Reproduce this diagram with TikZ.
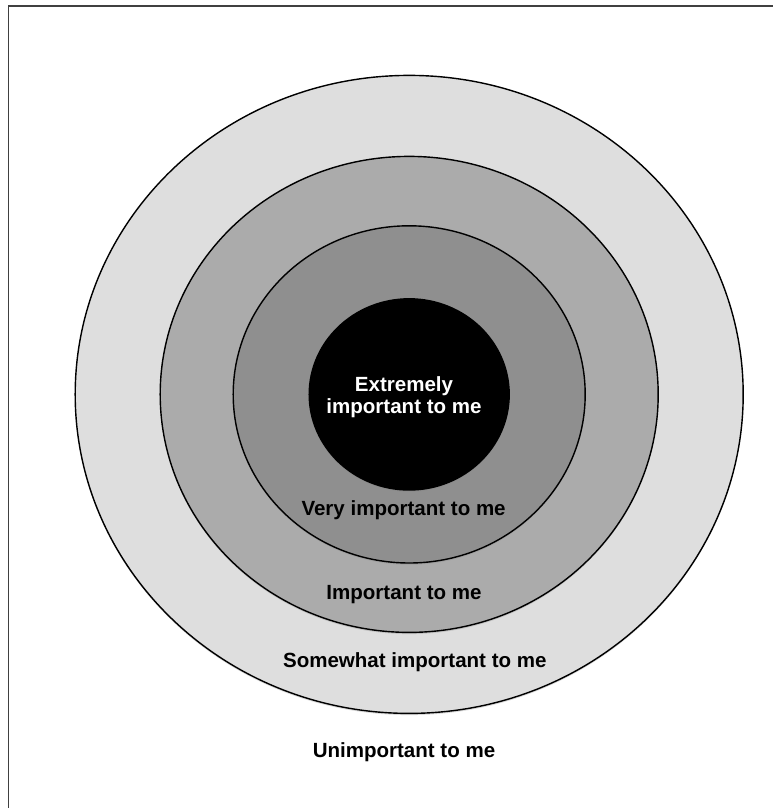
\documentclass[tikz,border=0pt]{standalone}
\usepackage{fontspec}
\setmainfont{Liberation Sans}
\usetikzlibrary{shapes.geometric}
\usetikzlibrary{shadows}

\begin{document}
\begin{tikzpicture}[
        ring/.style={ellipse,draw,line width=1pt,inner sep=0pt,
            drop shadow={opacity=0.3,shadow xshift=0pt,shadow yshift=-1.2pt}},
        lbl/.style={font=\bfseries\fontsize{14.6}{15.6}\selectfont,align=center}]
        \useasboundingbox (-10.23,-10.34) rectangle (9.09,9.86);
        \draw[line width=1pt,black!75] (-10.01,-10.34) -- (-10.01,9.71) -- (9.09,9.71);
        % rings, outside in
        \node[ring,fill=black!13,minimum width=16.7cm,minimum height=15.95cm] (R4) at (0,0) {};
        \node[ring,fill=black!33,minimum width=12.45cm,minimum height=11.9cm] (R3) at (0,0) {};
        \node[ring,fill=black!44,minimum width=8.8cm,minimum height=8.43cm] (R2) at (0,0) {};
        \node[ring,fill=black,minimum width=5cm,minimum height=4.78cm] (R1) at (0,0) {};
        % labels
        \node[lbl,text=white] (L1) at (-0.13,-0.06) {Extremely\\important to me};
        \node[lbl] (L2) at (-0.14,-2.89) {Very important to me};
        \node[lbl] (L3) at (-0.13,-5.01) {Important to me};
        \node[lbl] (L4) at (0.14,-6.69) {Somewhat important to me};
        \node[lbl] (L5) at (-0.13,-8.94) {Unimportant to me};
    \end{tikzpicture}
\end{document}
